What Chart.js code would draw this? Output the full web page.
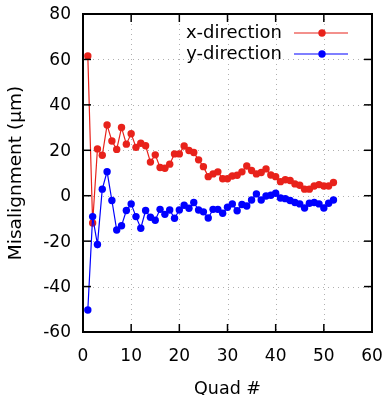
<!DOCTYPE html>
<html>
<head>
<meta charset="utf-8">
<script src="https://cdn.jsdelivr.net/npm/chart.js@4"></script>
<style>
html,body{margin:0;padding:0;background:#fff;}
#wrap{width:387px;height:395px;}
</style>
</head>
<body>
<div id="wrap"><canvas id="c" width="387" height="395"></canvas></div>
<script>
const quads = [1,2,3,4,5,6,7,8,9,10,11,12,13,14,15,16,17,18,19,20,21,22,23,24,25,26,
  27,28,29,30,31,32,33,34,35,36,37,38,39,40,41,42,43,44,45,46,47,48,49,50,51,52];
const xDirection = [61.5,-12,20.6,17.8,31.1,24.1,20.4,30.0,22.7,27.3,21.3,23.1,22.0,14.8,18.0,12.4,
  12.1,13.9,18.4,18.4,21.9,19.9,19.0,15.8,12.8,8.4,9.6,10.5,7.5,7.5,8.7,9.0,10.5,13.1,11.1,9.6,
  10.2,11.8,9.1,8.4,6.2,7.0,6.7,5.2,4.6,2.9,2.9,4.3,4.9,4.3,4.3,5.8];
const yDirection = [-50.3,-9.2,-21.5,2.9,10.6,-2.1,-15.1,-13.2,-6.5,-3.6,-9.2,-14.3,-6.5,-9.5,-10.8,-6.0,
  -8.2,-6.3,-9.9,-6.3,-4.2,-5.5,-3.0,-6.3,-7.1,-9.8,-6.0,-6.0,-7.7,-5.1,-3.6,-6.6,-3.9,-4.5,-1.9,0.8,
  -1.9,-0.1,0.2,1.1,-1.0,-1.3,-2.1,-3.0,-3.6,-5.4,-3.3,-3.0,-3.6,-5.4,-3.3,-1.9];
const seriesNames = ['x-direction','y-direction'];
const xTicks = [0,10,20,30,40,50,60];
const yTicks = [-60,-40,-20,0,20,40,60,80];
const xTitle = 'Quad #';
const yTitle = 'Misalignment (μm)';

const RED = '#e8221b';
const BLUE = '#0000ff';
const FONT = 'DejaVu Sans';

const framePlugin = {
  id: 'frame',
  beforeDatasetsDraw(chart) {
    const ctx = chart.ctx;
    const {left, right, top, bottom} = chart.chartArea;
    const xs = chart.scales.x, ys = chart.scales.y;
    ctx.save();
    ctx.strokeStyle = '#b0b0b0';
    ctx.lineWidth = 1;
    ctx.setLineDash([1, 4]);
    xTicks.forEach(v => {
      if (v === xTicks[0] || v === xTicks[xTicks.length - 1]) return;
      const px = Math.round(xs.getPixelForValue(v)) + 0.5;
      ctx.beginPath(); ctx.moveTo(px, top); ctx.lineTo(px, bottom); ctx.stroke();
    });
    yTicks.forEach(v => {
      if (v === yTicks[0] || v === yTicks[yTicks.length - 1]) return;
      const py = Math.round(ys.getPixelForValue(v)) + 0.5;
      ctx.beginPath(); ctx.moveTo(left, py); ctx.lineTo(right, py); ctx.stroke();
    });
    ctx.restore();
  },
  afterDraw(chart) {
    const ctx = chart.ctx;
    const {left, right, top, bottom} = chart.chartArea;
    const xs = chart.scales.x, ys = chart.scales.y;
    ctx.save();
    ctx.strokeStyle = '#000';
    ctx.lineWidth = 1.5;
    const tl = 8;
    xTicks.forEach(v => {
      const px = xs.getPixelForValue(v);
      ctx.beginPath(); ctx.moveTo(px, bottom); ctx.lineTo(px, bottom - tl); ctx.stroke();
      ctx.beginPath(); ctx.moveTo(px, top); ctx.lineTo(px, top + tl); ctx.stroke();
    });
    yTicks.forEach(v => {
      const py = ys.getPixelForValue(v);
      ctx.beginPath(); ctx.moveTo(left, py); ctx.lineTo(left + tl, py); ctx.stroke();
      ctx.beginPath(); ctx.moveTo(right, py); ctx.lineTo(right - tl, py); ctx.stroke();
    });
    ctx.lineWidth = 2;
    ctx.strokeRect(left, top, right - left, bottom - top);

    // legend (gnuplot style: text then sample)
    const colors = [RED, BLUE];
    ctx.font = '18px "' + FONT + '"';
    ctx.textAlign = 'right';
    ctx.textBaseline = 'middle';
    seriesNames.forEach((name, i) => {
      const y = top + 19 + i * 21;
      ctx.fillStyle = '#000';
      ctx.fillText(name, right - 90, y);
      ctx.strokeStyle = colors[i];
      ctx.lineWidth = 1.2;
      ctx.beginPath(); ctx.moveTo(right - 78, y); ctx.lineTo(right - 24, y); ctx.stroke();
      ctx.fillStyle = colors[i];
      ctx.beginPath(); ctx.arc(right - 50, y, 3.7, 0, Math.PI * 2); ctx.fill();
    });
    ctx.restore();
  }
};

function zeroPad(s) { s.paddingTop = 0; s.paddingBottom = 0; s.paddingLeft = 0; s.paddingRight = 0; }

new Chart(document.getElementById('c'), {
  type: 'line',
  data: {
    datasets: [
      {
        label: seriesNames[0],
        data: quads.map((q, i) => ({x: q, y: xDirection[i]})),
        borderColor: RED, backgroundColor: RED,
        borderWidth: 1.2, pointRadius: 3.7, pointBorderWidth: 0,
        pointBackgroundColor: RED, tension: 0, order: 1
      },
      {
        label: seriesNames[1],
        data: quads.map((q, i) => ({x: q, y: yDirection[i]})),
        borderColor: BLUE, backgroundColor: BLUE,
        borderWidth: 1.2, pointRadius: 3.7, pointBorderWidth: 0,
        pointBackgroundColor: BLUE, tension: 0, order: 0
      }
    ]
  },
  options: {
    responsive: false,
    animation: false,
    devicePixelRatio: 1,
    layout: {padding: {top: 14, right: 15, left: 0, bottom: 0}},
    plugins: {legend: {display: false}, tooltip: {enabled: false}},
    scales: {
      x: {
        type: 'linear', min: 0, max: 60,
        afterBuildTicks: s => { s.ticks = xTicks.map(v => ({value: v})); },
        afterFit: s => { s.height = 63; zeroPad(s); },
        grid: {display: false, drawTicks: false},
        border: {display: false},
        ticks: {color: '#000', font: {family: FONT, size: 17}, padding: 14, maxRotation: 0},
        title: {display: true, text: xTitle, color: '#000', font: {family: FONT, size: 17.5, lineHeight: 1}, padding: {top: 0, bottom: -3}}
      },
      y: {
        type: 'linear', min: -60, max: 80,
        afterBuildTicks: s => { s.ticks = yTicks.map(v => ({value: v})); },
        afterFit: s => { s.width = 83; zeroPad(s); },
        grid: {display: false, drawTicks: false},
        border: {display: false},
        ticks: {color: '#000', font: {family: FONT, size: 17}, padding: 12, labelOffset: 1},
        title: {display: true, text: yTitle, color: '#000', font: {family: FONT, size: 18.5, lineHeight: 1}, padding: {top: 7, bottom: 0}}
      }
    }
  },
  plugins: [framePlugin]
});
</script>
</body>
</html>
